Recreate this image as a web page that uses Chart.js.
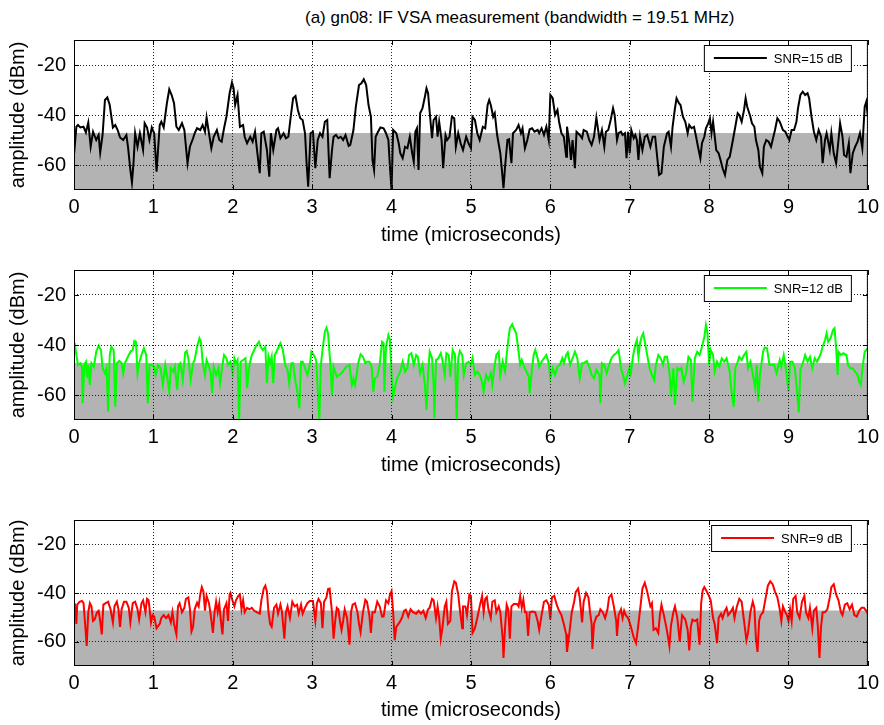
<!DOCTYPE html>
<html>
<head>
<meta charset="utf-8">
<script src="https://cdn.jsdelivr.net/npm/chart.js@4.4.0/dist/chart.umd.min.js"></script>
<style>
  body { margin: 0; background: #fff; font-family: 'Liberation Sans', Arial, sans-serif; }
  #title { position: absolute; left: 305px; top: 8px; font-size: 17px; white-space: nowrap; color: #000; }
  .panel { position: absolute; left: 0; width: 884px; }
</style>
</head>
<body>
<div id="title">(a) gn08: IF VSA measurement (bandwidth = 19.51 MHz)</div>
<div class="panel" style="top:0;height:250px"><canvas id="c1"></canvas></div>
<div class="panel" style="top:250px;height:250px"><canvas id="c2"></canvas></div>
<div class="panel" style="top:500px;height:225px"><canvas id="c3"></canvas></div>
<script>
// axes
const xTicks = [0, 1, 2, 3, 4, 5, 6, 7, 8, 9, 10];
const yTicks = [-60, -40, -20];
const yRange = [-70, -10];
const noiseFloor = -47.2;
const seriesLabels = ['SNR=15 dB', 'SNR=12 dB', 'SNR=9 dB'];

// SNR=15 dB trace (time in microseconds, amplitude in dBm)
const timeSnr15 = [
  0.00, 0.03, 0.05, 0.08, 0.12, 0.15, 0.18, 0.21, 0.24, 0.28,
  0.31, 0.33, 0.36, 0.39, 0.42, 0.45, 0.49, 0.52, 0.55, 0.58,
  0.62, 0.66, 0.68, 0.71, 0.73, 0.75, 0.77, 0.80, 0.83, 0.87,
  0.89, 0.92, 0.95, 0.98, 1.01, 1.04, 1.08, 1.10, 1.13, 1.17,
  1.20, 1.23, 1.26, 1.29, 1.32, 1.36, 1.39, 1.43, 1.46, 1.50,
  1.52, 1.55, 1.59, 1.62, 1.65, 1.67, 1.70, 1.73, 1.76, 1.80,
  1.83, 1.86, 1.89, 1.92, 1.96, 1.99, 2.01, 2.03, 2.06, 2.09,
  2.13, 2.15, 2.18, 2.22, 2.25, 2.28, 2.31, 2.34, 2.36, 2.39,
  2.43, 2.46, 2.48, 2.51, 2.55, 2.57, 2.60, 2.64, 2.67, 2.70,
  2.73, 2.76, 2.79, 2.82, 2.85, 2.88, 2.91, 2.93, 2.95, 2.98,
  3.01, 3.04, 3.07, 3.10, 3.13, 3.16, 3.19, 3.22, 3.25, 3.27,
  3.30, 3.33, 3.36, 3.39, 3.42, 3.46, 3.48, 3.52, 3.55, 3.59,
  3.62, 3.65, 3.68, 3.71, 3.74, 3.76, 3.78, 3.80, 3.83, 3.86,
  3.90, 3.93, 3.96, 3.98, 4.00, 4.02, 4.06, 4.09, 4.11, 4.14,
  4.17, 4.20, 4.23, 4.26, 4.28, 4.30, 4.32, 4.34, 4.36, 4.39,
  4.42, 4.44, 4.46, 4.48, 4.51, 4.53, 4.56, 4.58, 4.60, 4.63,
  4.65, 4.68, 4.70, 4.73, 4.76, 4.79, 4.81, 4.84, 4.87, 4.90,
  4.94, 4.97, 5.00, 5.02, 5.05, 5.08, 5.11, 5.15, 5.18, 5.21,
  5.23, 5.25, 5.28, 5.30, 5.33, 5.37, 5.39, 5.41, 5.43, 5.46,
  5.48, 5.51, 5.53, 5.57, 5.60, 5.63, 5.65, 5.68, 5.71, 5.74,
  5.77, 5.80, 5.84, 5.86, 5.89, 5.92, 5.95, 5.98, 6.00, 6.03,
  6.06, 6.09, 6.11, 6.14, 6.17, 6.20, 6.21, 6.24, 6.26, 6.28,
  6.31, 6.33, 6.37, 6.40, 6.42, 6.46, 6.49, 6.52, 6.55, 6.58,
  6.62, 6.65, 6.68, 6.70, 6.73, 6.76, 6.79, 6.81, 6.84, 6.86,
  6.89, 6.91, 6.94, 6.96, 6.98, 7.00, 7.02, 7.05, 7.07, 7.09,
  7.11, 7.13, 7.16, 7.19, 7.22, 7.26, 7.29, 7.32, 7.35, 7.37,
  7.40, 7.43, 7.47, 7.49, 7.52, 7.54, 7.57, 7.59, 7.62, 7.64,
  7.67, 7.70, 7.73, 7.75, 7.78, 7.81, 7.84, 7.86, 7.89, 7.91,
  7.94, 7.96, 7.99, 8.01, 8.03, 8.05, 8.09, 8.12, 8.15, 8.17,
  8.20, 8.23, 8.26, 8.30, 8.33, 8.36, 8.38, 8.41, 8.44, 8.46,
  8.48, 8.52, 8.54, 8.57, 8.59, 8.62, 8.64, 8.67, 8.69, 8.72,
  8.75, 8.78, 8.80, 8.83, 8.86, 8.89, 8.93, 8.96, 8.99, 9.01,
  9.04, 9.07, 9.10, 9.12, 9.15, 9.18, 9.21, 9.24, 9.26, 9.29,
  9.32, 9.35, 9.38, 9.41, 9.43, 9.46, 9.48, 9.52, 9.54, 9.57,
  9.60, 9.63, 9.65, 9.68, 9.70, 9.73, 9.76, 9.78, 9.81, 9.84,
  9.87, 9.90, 9.93, 9.96, 9.98, 10.00
];
const ampSnr15 = [
  -56, -44.7, -44, -45, -44.7, -47, -43, -52.7, -46.7, -50,
  -48, -55, -48, -34, -33, -36, -45, -44, -46, -49,
  -50, -48, -52.7, -62, -67, -59, -47.3, -52.7, -47.3, -54,
  -43.3, -45, -50, -45, -47.3, -62.7, -44, -42.7, -45, -35.3,
  -29.7, -32, -35.3, -44.7, -46, -43.3, -46, -59.3, -52.7, -49.3,
  -47.3, -45.3, -46, -44, -46.7, -41, -47.3, -53.3, -48.7, -46,
  -50, -50.7, -45.3, -40.7, -31.3, -27, -29.3, -36, -32, -44.7,
  -44, -48.7, -51.3, -48.7, -50.7, -46.7, -55.3, -63.3, -47.3, -46.7,
  -54, -64.7, -47.3, -54, -46, -45.3, -49.3, -47.3, -49.3, -48.7,
  -40.7, -33.3, -32.4, -38, -41.3, -42, -47.3, -59.3, -68.7, -47.3,
  -46.7, -61.3, -50, -47.3, -48.7, -42.7, -42, -65.3, -54, -48.7,
  -48, -49.3, -48.7, -50, -48, -52.4, -52, -46, -36.7, -28,
  -27.3, -25.7, -28, -36, -40.7, -58, -62, -48.7, -46.7, -45,
  -45.3, -47.3, -50, -60.7, -70, -46, -47.3, -51.3, -55.3, -57.3,
  -52.7, -53.3, -48.7, -55.3, -58.7, -46.7, -45.3, -62, -39.3, -37.3,
  -32.7, -29.3, -31.3, -38.7, -49.3, -42, -40.7, -48.7, -42.7, -50,
  -61.3, -48, -50, -48.7, -40.7, -41.3, -52.7, -47.3, -51.3, -54,
  -48.7, -51.3, -53.3, -40.7, -42, -47.3, -50, -44.7, -45.3, -36,
  -34, -36, -40.7, -39.3, -48, -55.3, -62, -69.3, -60.7, -50,
  -49.7, -59.3, -47.3, -46, -44, -47.3, -45.3, -53.3, -50, -45.7,
  -45.3, -46.7, -46, -47.3, -45.3, -48, -44.7, -50, -32, -33.3,
  -40, -38, -42.7, -47.3, -48.7, -56.7, -44.7, -51.3, -58, -50,
  -61.3, -46.7, -48, -49.3, -46, -46.7, -50, -52, -48.7, -41,
  -50, -46, -52.7, -46.7, -46, -42, -37.3, -40, -50, -47.3,
  -46.7, -48, -47.3, -57.3, -46.7, -55.3, -46, -49.3, -48, -50,
  -58, -48.7, -54, -48.7, -48, -52.7, -48.7, -48.7, -58, -64,
  -63.3, -52.7, -47.3, -46.7, -52.7, -44.7, -37.3, -33.3, -35.3, -36,
  -40.7, -42.7, -47.3, -44, -45.3, -44.7, -49.3, -52.7, -57.3, -51.3,
  -48.7, -45.3, -43.3, -41.3, -47.3, -42.7, -54, -55.3, -58.7, -61.3,
  -64, -58, -56.7, -50, -44.7, -39.3, -40, -42.7, -38, -33.3,
  -36.7, -40.7, -43.3, -44.7, -50, -54, -60.7, -63.3, -52.7, -50,
  -50.7, -52.7, -50, -46, -41.3, -42.7, -46, -46.7, -48.7, -50,
  -46, -46, -42.7, -37.3, -32, -30.7, -32, -31.3, -33.3, -40.7,
  -46.7, -50, -46, -48.7, -59.3, -50, -47.3, -54, -47.3, -55.3,
  -59.3, -50, -43.3, -48.7, -56, -56.7, -51.3, -63.3, -55.3, -52.7,
  -50.7, -47.3, -53.3, -36.7, -34.7, -40.7
];

// SNR=12 dB trace
const timeSnr12 = [
  0.01, 0.03, 0.05, 0.08, 0.10, 0.11, 0.13, 0.15, 0.17, 0.18,
  0.20, 0.22, 0.25, 0.28, 0.31, 0.34, 0.36, 0.39, 0.41, 0.43,
  0.45, 0.47, 0.50, 0.52, 0.54, 0.57, 0.60, 0.62, 0.64, 0.67,
  0.71, 0.74, 0.76, 0.78, 0.80, 0.82, 0.85, 0.88, 0.91, 0.93,
  0.95, 0.98, 1.01, 1.03, 1.06, 1.09, 1.12, 1.15, 1.17, 1.20,
  1.22, 1.25, 1.27, 1.30, 1.32, 1.34, 1.37, 1.40, 1.42, 1.44,
  1.47, 1.50, 1.52, 1.55, 1.58, 1.60, 1.62, 1.65, 1.67, 1.70,
  1.72, 1.74, 1.76, 1.79, 1.82, 1.84, 1.87, 1.89, 1.92, 1.94,
  1.97, 2.00, 2.02, 2.04, 2.06, 2.08, 2.10, 2.13, 2.16, 2.18,
  2.21, 2.24, 2.27, 2.30, 2.33, 2.35, 2.38, 2.41, 2.43, 2.45,
  2.47, 2.49, 2.51, 2.53, 2.56, 2.60, 2.63, 2.66, 2.69, 2.71,
  2.74, 2.76, 2.79, 2.81, 2.84, 2.86, 2.88, 2.91, 2.94, 2.97,
  2.99, 3.02, 3.05, 3.07, 3.09, 3.11, 3.13, 3.16, 3.18, 3.20,
  3.23, 3.25, 3.27, 3.29, 3.31, 3.34, 3.37, 3.40, 3.43, 3.47,
  3.50, 3.52, 3.54, 3.56, 3.58, 3.61, 3.64, 3.67, 3.69, 3.72,
  3.75, 3.77, 3.79, 3.82, 3.85, 3.88, 3.90, 3.91, 3.93, 3.96,
  3.98, 4.00, 4.02, 4.04, 4.07, 4.11, 4.14, 4.17, 4.20, 4.22,
  4.25, 4.28, 4.31, 4.33, 4.36, 4.39, 4.42, 4.44, 4.46, 4.48,
  4.51, 4.53, 4.54, 4.56, 4.59, 4.62, 4.64, 4.67, 4.69, 4.72,
  4.74, 4.77, 4.80, 4.82, 4.84, 4.86, 4.89, 4.91, 4.94, 4.97,
  5.00, 5.02, 5.05, 5.08, 5.11, 5.14, 5.16, 5.19, 5.22, 5.25,
  5.27, 5.29, 5.32, 5.35, 5.37, 5.40, 5.43, 5.45, 5.47, 5.49,
  5.52, 5.54, 5.57, 5.60, 5.62, 5.64, 5.67, 5.70, 5.73, 5.74,
  5.77, 5.79, 5.81, 5.84, 5.86, 5.89, 5.92, 5.95, 5.98, 6.00,
  6.03, 6.06, 6.09, 6.12, 6.15, 6.17, 6.20, 6.22, 6.25, 6.28,
  6.31, 6.34, 6.37, 6.40, 6.42, 6.46, 6.49, 6.52, 6.55, 6.58,
  6.62, 6.63, 6.65, 6.68, 6.71, 6.74, 6.77, 6.80, 6.83, 6.86,
  6.89, 6.91, 6.94, 6.97, 7.00, 7.01, 7.04, 7.07, 7.09, 7.11,
  7.13, 7.15, 7.17, 7.19, 7.22, 7.25, 7.28, 7.31, 7.33, 7.36,
  7.39, 7.42, 7.44, 7.47, 7.50, 7.52, 7.55, 7.57, 7.60, 7.63,
  7.65, 7.68, 7.71, 7.74, 7.77, 7.79, 7.82, 7.85, 7.88, 7.91,
  7.94, 7.96, 7.98, 8.00, 8.02, 8.05, 8.07, 8.10, 8.13, 8.16,
  8.19, 8.22, 8.26, 8.28, 8.31, 8.33, 8.36, 8.38, 8.41, 8.44,
  8.47, 8.49, 8.52, 8.56, 8.58, 8.60, 8.62, 8.64, 8.68, 8.70,
  8.73, 8.76, 8.79, 8.82, 8.85, 8.89, 8.91, 8.94, 8.97, 9.00,
  9.02, 9.05, 9.08, 9.11, 9.13, 9.15, 9.18, 9.21, 9.24, 9.27,
  9.30, 9.33, 9.36, 9.40, 9.43, 9.46, 9.48, 9.50, 9.53, 9.56,
  9.58, 9.60, 9.62, 9.63, 9.66, 9.69, 9.73, 9.75, 9.78, 9.81,
  9.84, 9.87, 9.89, 9.91, 9.94, 9.96, 10.00
];
const ampSnr12 = [
  -39.3, -44, -48, -47.3, -48.7, -63.3, -48, -46.7, -53.3, -48,
  -56, -47.3, -48.7, -42.7, -40.3, -42, -49.3, -51.3, -49.3, -66.7,
  -44, -40.7, -42, -64.7, -47.3, -46.4, -47.3, -51.3, -47.3, -45.3,
  -42.7, -42, -38.4, -38.7, -51.3, -47.3, -44, -41.3, -44, -63.3,
  -48, -48, -48.7, -52, -48, -49.3, -56, -48, -52, -58.7,
  -49.3, -50.7, -48.7, -58, -48, -47.3, -54, -43, -42.4, -45.3,
  -54, -47.3, -46, -40.7, -37.3, -38.7, -46.7, -52, -46, -48.7,
  -50.7, -59.3, -48.7, -52, -49.3, -55.3, -48, -44, -45.3, -48,
  -46.7, -51.3, -45.3, -47.3, -46, -70, -46.7, -46, -45.3, -57.3,
  -48, -44, -42, -40, -38.7, -40.7, -42, -40.7, -55.3, -44.7,
  -47.3, -44.7, -55.3, -44, -42, -39.3, -42, -48, -50, -55.3,
  -47.3, -47.3, -54.7, -58, -65.3, -46.7, -46.7, -49.3, -52, -48,
  -42.7, -44, -46, -58, -70, -48, -42, -34.7, -33.1, -35.3,
  -48, -60, -48.7, -50.7, -52.7, -52, -51.3, -50, -48.7, -48,
  -56, -53.3, -56, -52, -47.3, -43.7, -44.7, -47.3, -46.7, -46.7,
  -48.7, -58.7, -53.3, -52.7, -48, -38.7, -39.3, -58.7, -40.7, -36,
  -38, -52, -60.7, -57.3, -53.3, -50.7, -46.7, -50.7, -49.3, -44,
  -43.3, -48, -44, -44.7, -51.3, -48, -56, -66, -52, -42.7,
  -45.3, -56, -69.3, -46, -45.3, -43.3, -46, -52, -43.3, -44,
  -52.7, -42, -44, -70, -45.3, -42.4, -44, -52, -47.3, -46.7,
  -48, -45.3, -52, -50.7, -52, -54.7, -58.7, -52, -54, -51.3,
  -56, -50, -44, -42.7, -52, -46.7, -50.7, -44, -38, -33.3,
  -31.7, -33.3, -35.3, -42.7, -48, -46, -48.7, -50.7, -52.7, -59.3,
  -49.3, -44, -42, -45.3, -48.7, -46.7, -45.3, -44, -47.3, -53.3,
  -49.3, -52, -48.7, -48, -45.3, -47.3, -44, -43, -48, -45.3,
  -42.7, -45.3, -53.3, -47.3, -47.3, -46.4, -48.7, -52, -53.3, -50,
  -52, -63.3, -47.3, -48, -51.3, -48, -45.3, -44, -43.3, -42,
  -49.3, -51.3, -55.3, -52, -48.7, -52.7, -44.7, -40, -38, -44.7,
  -39.3, -36.7, -35.3, -38.7, -44, -49.3, -52, -54, -48, -44,
  -45.3, -48, -44.7, -44.7, -50.7, -60.7, -49.3, -64, -49.3, -50,
  -49.3, -54.7, -51.3, -44.7, -46, -62.7, -45.3, -42.7, -44, -40.7,
  -36.7, -32, -35.3, -48, -42, -44, -50.7, -46.7, -48.7, -45.3,
  -46.7, -45.3, -50.7, -58, -64.7, -49.3, -46.7, -44.7, -46, -44,
  -42.7, -49.3, -46.7, -53.3, -57.3, -48, -62.7, -52, -42.7, -41,
  -41.3, -48, -48, -48, -51.3, -46, -48.7, -44, -50, -58.7,
  -46.7, -46.7, -49.3, -59.3, -67, -50, -47.3, -44, -46.7, -44.7,
  -49.3, -45.3, -46.7, -44, -40.7, -38, -35.3, -38.7, -37.3, -34,
  -33.3, -41.3, -52, -42.7, -44, -43.3, -44, -48, -49.3, -49.3,
  -50.7, -52, -54.7, -56, -47.3, -42.7, -41.3
];

// SNR=9 dB trace
const timeSnr9 = [
  0.01, 0.03, 0.04, 0.07, 0.10, 0.12, 0.14, 0.16, 0.18, 0.20,
  0.22, 0.24, 0.26, 0.29, 0.31, 0.33, 0.35, 0.37, 0.40, 0.43,
  0.46, 0.49, 0.51, 0.54, 0.56, 0.58, 0.60, 0.63, 0.66, 0.69,
  0.71, 0.74, 0.77, 0.80, 0.82, 0.85, 0.87, 0.90, 0.92, 0.94,
  0.97, 0.99, 1.01, 1.04, 1.08, 1.10, 1.13, 1.16, 1.19, 1.22,
  1.24, 1.26, 1.29, 1.31, 1.33, 1.36, 1.39, 1.41, 1.44, 1.46,
  1.48, 1.50, 1.52, 1.55, 1.57, 1.59, 1.61, 1.63, 1.65, 1.67,
  1.70, 1.72, 1.75, 1.77, 1.79, 1.81, 1.83, 1.85, 1.87, 1.89,
  1.92, 1.94, 1.96, 1.97, 1.99, 2.02, 2.04, 2.07, 2.09, 2.11,
  2.13, 2.15, 2.18, 2.21, 2.24, 2.27, 2.30, 2.34, 2.36, 2.39,
  2.41, 2.43, 2.45, 2.47, 2.49, 2.52, 2.55, 2.57, 2.60, 2.62,
  2.65, 2.67, 2.69, 2.72, 2.75, 2.78, 2.81, 2.83, 2.86, 2.88,
  2.91, 2.94, 2.97, 3.01, 3.04, 3.06, 3.08, 3.11, 3.13, 3.15,
  3.18, 3.20, 3.22, 3.25, 3.27, 3.29, 3.31, 3.33, 3.35, 3.37,
  3.39, 3.41, 3.44, 3.47, 3.49, 3.51, 3.54, 3.57, 3.59, 3.61,
  3.64, 3.67, 3.69, 3.72, 3.74, 3.76, 3.79, 3.82, 3.85, 3.88,
  3.90, 3.93, 3.96, 3.98, 4.00, 4.02, 4.04, 4.06, 4.10, 4.13,
  4.16, 4.18, 4.21, 4.24, 4.27, 4.31, 4.34, 4.37, 4.40, 4.43,
  4.46, 4.48, 4.51, 4.53, 4.56, 4.58, 4.60, 4.62, 4.64, 4.67,
  4.69, 4.71, 4.74, 4.76, 4.79, 4.81, 4.84, 4.86, 4.89, 4.90,
  4.93, 4.95, 4.98, 5.00, 5.02, 5.05, 5.08, 5.11, 5.14, 5.16,
  5.18, 5.20, 5.22, 5.25, 5.27, 5.30, 5.32, 5.35, 5.37, 5.40,
  5.41, 5.43, 5.45, 5.47, 5.49, 5.51, 5.54, 5.58, 5.60, 5.62,
  5.64, 5.66, 5.68, 5.70, 5.72, 5.74, 5.78, 5.81, 5.84, 5.86,
  5.89, 5.92, 5.95, 5.98, 6.00, 6.02, 6.05, 6.08, 6.11, 6.14,
  6.17, 6.20, 6.21, 6.24, 6.27, 6.30, 6.32, 6.35, 6.37, 6.40,
  6.42, 6.45, 6.48, 6.50, 6.52, 6.53, 6.55, 6.58, 6.61, 6.63,
  6.66, 6.69, 6.72, 6.74, 6.77, 6.80, 6.83, 6.84, 6.86, 6.89,
  6.91, 6.93, 6.95, 6.98, 7.01, 7.05, 7.08, 7.11, 7.14, 7.16,
  7.19, 7.22, 7.26, 7.28, 7.30, 7.33, 7.36, 7.38, 7.40, 7.43,
  7.46, 7.48, 7.50, 7.52, 7.55, 7.57, 7.60, 7.63, 7.66, 7.70,
  7.73, 7.75, 7.77, 7.79, 7.82, 7.85, 7.88, 7.90, 7.92, 7.94,
  7.96, 7.99, 8.02, 8.05, 8.07, 8.10, 8.12, 8.15, 8.17, 8.20,
  8.22, 8.24, 8.27, 8.30, 8.32, 8.35, 8.38, 8.41, 8.44, 8.47,
  8.49, 8.52, 8.55, 8.57, 8.59, 8.61, 8.63, 8.65, 8.68, 8.71,
  8.74, 8.77, 8.80, 8.83, 8.86, 8.89, 8.91, 8.93, 8.96, 8.98,
  9.00, 9.02, 9.04, 9.06, 9.09, 9.11, 9.14, 9.17, 9.20, 9.22,
  9.25, 9.27, 9.30, 9.32, 9.35, 9.37, 9.39, 9.41, 9.43, 9.46,
  9.49, 9.52, 9.54, 9.57, 9.60, 9.63, 9.66, 9.68, 9.71, 9.74,
  9.77, 9.80, 9.83, 9.86, 9.89, 9.92, 9.95, 9.98, 10.00
];
const ampSnr9 = [
  -44.2, -52.7, -44.8, -43.6, -43.3, -44.2, -52.7, -61.8, -47.9, -44.2,
  -45.5, -51.5, -50.9, -47.9, -47.3, -51.5, -57, -44.8, -44.2, -43.6,
  -46.7, -52.1, -45.5, -43.6, -46.7, -53.9, -46.7, -43.6, -43.6, -46.1,
  -52.1, -44.2, -43.6, -46.7, -50.9, -44.2, -43, -47.9, -42.4, -43,
  -52.1, -49.1, -49.7, -54.5, -52.7, -50.3, -49.1, -50.3, -49.1, -52.1,
  -47.9, -52.7, -57, -45.5, -44.2, -47.9, -46.1, -42.4, -41.8, -46.7,
  -55.8, -53.9, -46.7, -44, -45.5, -40.6, -37.6, -39.4, -47.3, -41.2,
  -44.2, -48.5, -56.4, -47.9, -43.6, -47.9, -44.2, -51.5, -57, -46.7,
  -44.2, -51.5, -40.6, -40, -42.4, -45.5, -43, -41.2, -40.6, -46.7,
  -43, -47.9, -46.1, -46.7, -46.1, -47.3, -47.9, -48.5, -43, -38.2,
  -37, -39.4, -47.9, -52.7, -53.9, -46.1, -44.8, -48.5, -44.8, -47.9,
  -58.8, -47.9, -45.5, -50.3, -43.6, -45.5, -44.8, -48.5, -44.8, -48.5,
  -46.1, -44.2, -43.3, -43.3, -51.5, -44.2, -42.4, -44.2, -54.5, -43.6,
  -41.8, -38.4, -38.2, -47.9, -58.8, -51.5, -46.1, -46.7, -51.5, -55.2,
  -51.5, -46.7, -50.3, -61.2, -47.9, -44.8, -44.2, -47.9, -52.7, -56.1,
  -47.9, -42.8, -43.6, -49.1, -56.4, -47.9, -47.9, -43.6, -45.5, -49.7,
  -49.7, -43, -44.2, -40.6, -39.2, -47.9, -59.4, -53.9, -52.1, -50.3,
  -47.3, -46.9, -49.7, -46.7, -47.9, -48.5, -47.3, -48.5, -47.3, -50.3,
  -46.7, -46.1, -42.4, -43, -50.3, -45.5, -50.3, -58.8, -54.5, -45.5,
  -43.6, -52.7, -51.5, -39.4, -35.2, -35.8, -40.6, -46.7, -54.5, -45.5,
  -45.5, -49.1, -40.6, -41.2, -56.4, -54.5, -50.3, -45.5, -41.2, -47.9,
  -42.4, -41.6, -46.7, -50.3, -43.6, -43, -47.9, -45.5, -47.9, -58.8,
  -66.7, -53.9, -44.8, -46.7, -58.8, -45.5, -44.5, -44.5, -45.5, -41.2,
  -46.1, -42.8, -47.9, -47.9, -57.6, -47.9, -47.6, -47.9, -51.5, -55.2,
  -49.1, -43.6, -43, -44.8, -50.9, -41.8, -41.2, -44.8, -47.3, -49.1,
  -52.7, -57, -64.2, -56.4, -47.9, -43.6, -39.6, -38.2, -41.8, -52.1,
  -43.6, -40, -41.8, -47.9, -52.7, -63, -52.7, -49.7, -49.1, -46.7,
  -47.9, -50.3, -46.7, -41.8, -40.6, -45.5, -51.5, -57.6, -49.1, -46.7,
  -50.3, -47.3, -49.1, -50.3, -53.3, -58.2, -60.6, -52.7, -44.2, -38.2,
  -35.8, -39.4, -45.5, -44.2, -55.2, -54.5, -56.4, -49.1, -44.8, -49.1,
  -53.9, -57.6, -61.8, -53.3, -47.9, -45.5, -50.3, -60, -49.1, -50.9,
  -55.2, -63.6, -53.9, -50.9, -51.5, -50.9, -61.2, -44.2, -38.8, -37.6,
  -38.8, -40.6, -43, -50.3, -52.7, -60.6, -50.3, -48.5, -50.3, -47.3,
  -46.1, -49.1, -47.9, -46.1, -50.3, -45.5, -42.4, -43.6, -51.5, -59.4,
  -56.4, -47.9, -43.6, -46.1, -58.8, -64.2, -51.5, -49.1, -47.9, -42.4,
  -37, -35.2, -36.4, -39.4, -41.8, -46.7, -51.5, -45.5, -47.9, -49.1,
  -51.5, -46.7, -51.5, -42.4, -41.2, -47.9, -50.3, -43.6, -41.2, -47.9,
  -50.3, -46.1, -54.5, -47.3, -46.1, -53.9, -66.7, -53.9, -47.9, -47.9,
  -46.7, -41.8, -37.6, -36.4, -40.6, -43, -47.9, -49.1, -44.8, -44.2,
  -46.7, -44.8, -49.1, -49.7, -47.3, -46.1, -46.1, -47.3, -48.5
];

Chart.defaults.font.family = "'Liberation Sans', Arial, sans-serif";
Chart.defaults.font.size = 20;
Chart.defaults.color = '#000';

// frame, inward ticks and the boxed legend, drawn the way MATLAB does it
const matlabAxes = {
  id: 'matlabAxes',
  afterDraw(chart) {
    const { ctx, chartArea: a, scales: { x, y } } = chart;
    ctx.save();
    ctx.strokeStyle = '#000';
    ctx.lineWidth = 1;
    ctx.beginPath();
    xTicks.forEach(v => {
      const px = Math.round(x.getPixelForValue(v)) + 0.5;
      ctx.moveTo(px, a.bottom); ctx.lineTo(px, a.bottom - 5);
      ctx.moveTo(px, a.top); ctx.lineTo(px, a.top + 5);
    });
    yTicks.forEach(v => {
      const py = Math.round(y.getPixelForValue(v)) + 0.5;
      ctx.moveTo(a.left, py); ctx.lineTo(a.left + 5, py);
      ctx.moveTo(a.right, py); ctx.lineTo(a.right - 5, py);
    });
    ctx.stroke();
    ctx.strokeRect(a.left + 0.5, a.top + 0.5, a.width - 1, a.height - 1);

    // legend
    const ds = chart.data.datasets[0];
    ctx.font = "13px 'Liberation Sans', Arial, sans-serif";
    const tw = ctx.measureText(ds.label).width;
    const boxR = a.right - 17, boxT = a.top + 5, boxH = 26;
    const textX = boxR - 8 - tw;
    const lineR = textX - 7, lineL = lineR - 53;
    const boxL = lineL - 10;
    const cy = boxT + boxH / 2;
    ctx.fillStyle = '#fff';
    ctx.fillRect(boxL, boxT, boxR - boxL, boxH);
    ctx.strokeRect(boxL + 0.5, boxT + 0.5, boxR - boxL, boxH);
    ctx.strokeStyle = ds.borderColor;
    ctx.lineWidth = 2;
    ctx.beginPath();
    ctx.moveTo(lineL, cy); ctx.lineTo(lineR, cy);
    ctx.stroke();
    ctx.fillStyle = '#000';
    ctx.textBaseline = 'middle';
    ctx.fillText(ds.label, textX, cy + 1);
    ctx.restore();
  }
};

function drawPanel(id, times, amps, color, label, pad, axisH) {
  const n = Math.min(times.length, amps.length);
  const points = [];
  for (let i = 0; i < n; i++) points.push({ x: times[i], y: amps[i] });
  const floor = [
    { x: xTicks[0], y: noiseFloor },
    { x: xTicks[xTicks.length - 1], y: noiseFloor }
  ];

  return new Chart(document.getElementById(id), {
    type: 'line',
    data: {
      datasets: [
        { label: label, data: points, borderColor: color, borderWidth: 2,
          pointRadius: 0, tension: 0, fill: false },
        { label: 'noise', data: floor, borderWidth: 0, pointRadius: 0,
          backgroundColor: '#b3b3b3', fill: 'start' }
      ]
    },
    options: {
      responsive: true,
      maintainAspectRatio: false,
      animation: false,
      events: [],
      layout: { padding: { left: 0, right: 16, top: pad.top, bottom: pad.bottom } },
      plugins: { legend: { display: false }, tooltip: { enabled: false } },
      scales: {
        x: {
          type: 'linear',
          min: xTicks[0],
          max: xTicks[xTicks.length - 1],
          afterBuildTicks: s => { s.ticks = xTicks.map(v => ({ value: v })); },
          afterFit: s => { s.height = axisH; },
          ticks: { padding: 5, maxRotation: 0, autoSkip: false },
          grid: { z: 1, color: '#222', drawTicks: false, lineWidth: 1 },
          border: { display: false, dash: [1, 2] },
          title: { display: true, text: 'time (microseconds)', padding: { top: 0, bottom: 3 } }
        },
        y: {
          min: yRange[0],
          max: yRange[1],
          afterBuildTicks: s => { s.ticks = yTicks.map(v => ({ value: v })); },
          afterFit: s => { s.width = 74; },
          ticks: { padding: 8 },
          grid: { z: 1, color: '#222', drawTicks: false, lineWidth: 1 },
          border: { display: false, dash: [1, 2] },
          title: { display: true, text: 'amplitude (dBm)', padding: { top: 6, bottom: 0 } }
        }
      }
    },
    plugins: [matlabAxes]
  });
}

drawPanel('c1', timeSnr15, ampSnr15, '#000000', seriesLabels[0], { top: 40, bottom: 0 }, 60);
drawPanel('c2', timeSnr12, ampSnr12, '#00ff00', seriesLabels[1], { top: 20, bottom: 20 }, 60);
drawPanel('c3', timeSnr9, ampSnr9, '#ff0000', seriesLabels[2], { top: 1, bottom: 0 }, 59);
</script>
</body>
</html>
